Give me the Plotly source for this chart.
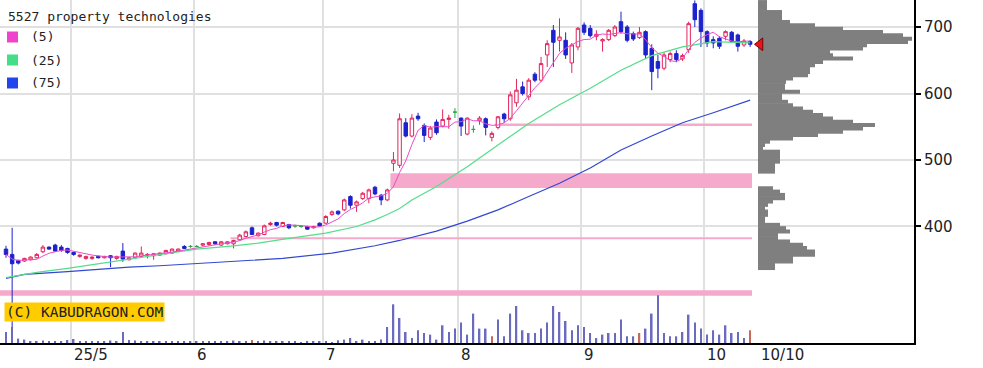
import pandas as pd
import plotly.graph_objects as go

TITLE = "5527 property technologies"
HOLIDAYS = ["2025-04-29", "2025-05-05", "2025-05-06", "2025-07-21",
            "2025-08-11", "2025-09-15", "2025-09-23"]
dates = [d for d in pd.bdate_range("2025-04-15", "2025-10-10")
         if d.strftime("%Y-%m-%d") not in HOLIDAYS]

open_ = [366, 358, 349, 348, 350, 353, 362, 369, 372, 369, 367, 361, 355, 352, 352, 355, 353, 356, 352, 363,
         350, 353, 355, 357, 356, 357, 359, 360, 363, 370, 370, 370, 372, 373, 377, 372, 374, 374, 380, 385,
         398, 386, 388, 403, 406, 400, 403, 401, 400, 400, 398, 405, 405, 418, 423, 425, 445, 432, 442, 442,
         459, 447, 440, 495, 492, 556, 536, 566, 552, 534, 557, 551, 561, 572, 563, 539, 546, 559, 562, 534,
         549, 569, 562, 586, 610, 595, 629, 620, 658, 695, 680, 680, 646, 670, 703, 698, 686, 679, 681, 687,
         708, 700, 690, 684, 693, 668, 648, 638, 651, 660, 652, 666, 735, 725, 693, 681, 683, 686, 692, 688,
         673, 678]
high = [371, 398, 350, 353, 355, 360, 372, 370, 374, 372, 368, 362, 358, 356, 355, 356, 356, 357, 356, 375,
        354, 361, 370, 360, 360, 361, 365, 367, 367, 372, 372, 372, 375, 377, 378, 378, 378, 380, 389, 394,
        400, 391, 403, 407, 407, 407, 404, 403, 402, 401, 401, 406, 417, 424, 424, 442, 447, 439, 452, 457,
        461, 449, 457, 512, 570, 563, 569, 571, 555, 551, 561, 576, 568, 578, 564, 564, 552, 566, 564, 543,
        566, 571, 603, 622, 618, 623, 632, 655, 680, 703, 713, 692, 676, 700, 707, 703, 695, 683, 697, 703,
        723, 703, 693, 700, 695, 674, 658, 662, 663, 665, 660, 708, 740, 728, 695, 686, 686, 695, 694, 690,
        682, 680]
low = [353, 240, 343, 347, 349, 352, 360, 365, 362, 362, 359, 356, 353, 350, 350, 352, 352, 339, 350, 347,
       349, 351, 353, 352, 350, 356, 358, 359, 362, 366, 368, 369, 370, 371, 372, 371, 373, 367, 379, 384,
       387, 385, 387, 401, 400, 399, 396, 398, 398, 395, 397, 400, 404, 416, 417, 423, 427, 422, 440, 435,
       447, 432, 438, 483, 488, 534, 534, 559, 527, 530, 538, 549, 547, 563, 536, 537, 541, 553, 537, 528,
       546, 556, 559, 580, 597, 590, 617, 617, 640, 640, 663, 652, 631, 665, 688, 684, 680, 663, 679, 685,
       690, 677, 679, 682, 653, 605, 623, 635, 647, 647, 649, 661, 700, 670, 670, 668, 667, 680, 676, 663,
       670, 670]
close = [358, 344, 345, 352, 354, 358, 369, 366, 363, 364, 361, 358, 357, 355, 354, 353, 355, 353, 355, 351,
         353, 360, 360, 358, 359, 360, 364, 366, 366, 367, 370, 370, 374, 376, 374, 377, 377, 379, 387, 392,
         388, 390, 401, 405, 402, 406, 398, 401, 400, 396, 400, 401, 415, 422, 419, 440, 432, 437, 450, 455,
         449, 440, 455, 500, 562, 536, 563, 562, 537, 548, 541, 561, 563, 572, 551, 563, 546, 563, 549, 540,
         565, 562, 598, 605, 600, 620, 620, 645, 675, 677, 685, 658, 673, 698, 692, 687, 689, 681, 695, 700,
         693, 680, 682, 692, 658, 633, 638, 658, 660, 651, 657, 705, 711, 693, 676, 676, 671, 693, 678, 671,
         679, 674]
volume = [110, 160, 44, 34, 20, 15, 25, 15, 20, 15, 30, 40, 15, 20, 15, 12, 20, 25, 15, 110,
          30, 25, 20, 15, 12, 15, 20, 15, 12, 20, 15, 12, 15, 20, 12, 15, 20, 25, 15, 20,
          30, 12, 25, 15, 20, 15, 12, 15, 10, 12, 15, 12, 20, 10, 27, 34, 50, 20, 34, 20,
          20, 34, 160, 387, 250, 110, 50, 127, 100, 84, 34, 177, 110, 144, 204, 84, 294, 144, 144, 67,
          234, 67, 294, 370, 127, 100, 100, 144, 204, 370, 310, 220, 127, 177, 160, 100, 50, 84, 100, 100,
          234, 67, 67, 100, 144, 294, 477, 100, 67, 67, 110, 284, 204, 144, 84, 127, 84, 177, 100, 110,
          50, 127]
vol_red_days = [40, 79, 103, 121]

# moving averages (day index -> value)
ma25_idx = [0, 5, 10, 15, 20, 25, 31, 37, 41, 46, 52, 57, 60, 62, 64, 66, 70, 75, 80, 85, 90, 95, 100, 105, 110, 115, 121]
ma25_val = [323, 331, 337, 344, 351, 357, 366, 371, 375, 382, 390, 400, 410, 418, 427, 440, 460, 490, 523, 555, 583, 608, 635, 657, 670, 678, 676]
ma75_idx = [0, 3, 10, 15, 20, 25, 32, 40, 45, 53, 60, 64, 70, 75, 80, 85, 90, 95, 100, 105, 110, 115, 121]
ma75_val = [322, 328, 332, 336, 339, 341, 345, 349, 352, 360, 371, 379, 393, 408, 425, 445, 465, 488, 515, 536, 556, 571, 590]

# price-volume profile (bin centre price, bar length)
prof_price = [737.5, 732.5, 727.5, 722.5, 717.5, 712.5, 707.5, 702.5, 697.5, 692.5, 687.5, 682.5, 677.5, 672.5,
              667.5, 662.5, 657.5, 652.5, 647.5, 642.5, 637.5, 632.5, 627.5, 622.5, 617.5, 612.5, 607.5, 602.5,
              597.5, 592.5, 587.5, 582.5, 577.5, 572.5, 567.5, 562.5, 557.5, 552.5, 547.5, 542.5, 537.5, 532.5,
              527.5, 522.5, 517.5, 512.5, 507.5, 502.5, 497.5, 492.5, 487.5, 482.5, 477.5, 472.5, 467.5, 462.5,
              457.5, 452.5, 447.5, 442.5, 437.5, 432.5, 427.5, 422.5, 417.5, 412.5, 407.5, 402.5, 397.5, 392.5,
              387.5, 382.5, 377.5, 372.5, 367.5, 362.5, 357.5, 352.5, 347.5, 342.5, 337.5]
prof_size = [9, 9, 9, 24, 24, 24, 32, 57, 85, 125, 145, 154, 150, 109,
             105, 72, 75, 95, 65, 57, 52, 52, 50, 35, 28, 27, 27, 42,
             24, 24, 30, 35, 45, 55, 65, 75, 95, 117, 105, 85, 60, 35,
             12, 7, 5, 22, 22, 22, 22, 17, 17, 17, 0, 0, 0, 0,
             15, 22, 27, 27, 15, 10, 7, 10, 10, 7, 7, 22, 28, 32,
             20, 20, 32, 45, 49, 57, 57, 35, 35, 17, 17]

# horizontal price zones
band_low = [296, 458, 381, 551]
band_high = [304, 480, 384, 555]
band_start = [0, 63, 37, 80]

RED = "#e2245c"
BLUE = "#1c22cc"
GREEN = "#22aa44"
PINK_MA = "#ec4cc8"
GREEN_MA = "#55dd8a"
BLUE_MA = "#3348d0"
BAND = "#f5aacb"
GRID = "#e0e0e0"
PROFILE = "#7f7f7f"

W, H = 983, 368
PW, PH = 914, 343  # plot area in px


def px(x):
    return x / PW


def py(y):
    return 1 - y / PH


n = len(dates)
idx = list(range(n))
X_LO = -6 / 6.15
X_HI = (757 - 6) / 6.15

fig = go.Figure()

# volume
vol_colors = ["#c46a5a" if i in vol_red_days else "#6a6abf" for i in idx]
fig.add_trace(go.Bar(x=idx, y=volume, width=0.26, marker=dict(color=vol_colors, line=dict(width=0)),
                     xaxis="x", yaxis="y3", showlegend=False, hoverinfo="skip"))

# moving averages
ma5 = pd.Series(close).rolling(5, min_periods=1).mean().tolist()
fig.add_trace(go.Scatter(x=ma75_idx, y=ma75_val, mode="lines", line=dict(color=BLUE_MA, width=1.2),
                         showlegend=False, hoverinfo="skip"))
fig.add_trace(go.Scatter(x=ma25_idx, y=ma25_val, mode="lines", line=dict(color=GREEN_MA, width=1.2),
                         showlegend=False, hoverinfo="skip"))
fig.add_trace(go.Scatter(x=idx, y=ma5, mode="lines", line=dict(color=PINK_MA, width=1),
                         showlegend=False, hoverinfo="skip"))


def pick(mask):
    xs = [i for i in idx if mask(i)]
    return dict(x=xs, open=[open_[i] for i in xs], high=[high[i] for i in xs],
                low=[low[i] for i in xs], close=[close[i] for i in xs])


for mask, col, fill in [
    (lambda i: close[i] > open_[i], RED, "white"),
    (lambda i: close[i] < open_[i], BLUE, BLUE),
    (lambda i: close[i] == open_[i], GREEN, GREEN),
]:
    d = pick(mask)
    fig.add_trace(go.Candlestick(
        **d, xaxis="x", yaxis="y", showlegend=False, whiskerwidth=0,
        increasing=dict(line=dict(color=col, width=1), fillcolor=fill),
        decreasing=dict(line=dict(color=col, width=1), fillcolor=fill),
    ))

# volume profile (bars slightly overlapping so no seams show)
fig.add_trace(go.Bar(y=prof_price, x=prof_size, orientation="h", width=6,
                     marker=dict(color=PROFILE, line=dict(width=0)),
                     xaxis="x2", yaxis="y", showlegend=False, hoverinfo="skip"))

# current price marker
fig.add_trace(go.Scatter(x=[2], y=[close[-1]], mode="markers", xaxis="x2", yaxis="y",
                         marker=dict(symbol="triangle-left", size=11, color="#e8161b",
                                     line=dict(color="#7a0000", width=1)),
                         cliponaxis=False, showlegend=False, hoverinfo="skip"))

shapes = []
for lo, hi, st in zip(band_low, band_high, band_start):
    shapes.append(dict(type="rect", xref="x", yref="y", x0=(st - 0.5) if st > 0 else X_LO,
                       x1=n - 1 + 0.3, y0=lo, y1=hi, fillcolor=BAND, line=dict(width=0),
                       layer="between"))

# legend squares
legend_items = [("(5)", "#ee44cc", 37), ("(25)", "#44dd88", 60), ("(75)", "#2244ee", 83)]
annotations = []
for label, col, yc in legend_items:
    shapes.append(dict(type="rect", xref="paper", yref="paper", x0=px(7), x1=px(18),
                       y0=py(yc + 5.5), y1=py(yc - 5.5), fillcolor=col, line=dict(width=0),
                       layer="above"))
    annotations.append(dict(text=label, xref="paper", yref="paper", x=px(29), y=py(yc),
                            xanchor="left", yanchor="middle", showarrow=False,
                            font=dict(family="DejaVu Sans Mono", size=13, color="#222")))

annotations.append(dict(text=TITLE, xref="paper", yref="paper", x=px(6), y=py(16),
                        xanchor="left", yanchor="middle", showarrow=False,
                        font=dict(family="DejaVu Sans Mono", size=13, color="#222")))
annotations.append(dict(text="(C) KABUDRAGON.COM", xref="paper", yref="paper", x=px(4), y=py(312),
                        xanchor="left", yanchor="middle", showarrow=False, bgcolor="#ffcc00",
                        borderpad=1,
                        font=dict(family="DejaVu Sans Mono", size=14.5, color="#222")))

# month starts
month_first = []
for i, d in enumerate(dates):
    if i > 0 and d.month != dates[i - 1].month:
        month_first.append(i)
month_text = []
for k, i in enumerate(month_first):
    d = dates[i]
    month_text.append(f"{d.year % 100}/{d.month}" if k == 0 else f"{d.month}")
for i, t in zip(month_first, month_text):
    annotations.append(dict(text=t, xref="x", yref="paper", x=i - 0.5, y=0, xanchor="left",
                            yanchor="top", xshift=1, yshift=-1, showarrow=False,
                            font=dict(family="DejaVu Sans", size=15, color="#222")))
annotations.append(dict(text=f"{dates[-1].month}/{dates[-1].day}", xref="x", yref="paper",
                        x=n - 1, y=0, xanchor="left", yanchor="top", xshift=9, yshift=-1,
                        showarrow=False, font=dict(family="DejaVu Sans", size=15, color="#222")))

fig.update_layout(
    width=W, height=H, margin=dict(l=0, r=W - PW, t=0, b=H - PH, autoexpand=False),
    paper_bgcolor="white", plot_bgcolor="white", barmode="overlay", showlegend=False,
    boxgap=0.2,
    shapes=shapes, annotations=annotations,
    xaxis=dict(domain=[0, px(757)], range=[X_LO, X_HI], anchor="y",
               tickvals=[i - 0.5 for i in month_first], showticklabels=False, ticks="",
               showgrid=True, gridcolor=GRID, gridwidth=2, zeroline=False,
               showline=True, linecolor="black", linewidth=2, rangeslider=dict(visible=False),
               fixedrange=True),
    xaxis2=dict(domain=[px(757), 1], range=[-1, 156], anchor="y", showticklabels=False,
                ticks="", showgrid=False, zeroline=False, showline=True, linecolor="black",
                linewidth=2, fixedrange=True),
    yaxis=dict(range=[224.8, 740.6], side="right", anchor="x2", tickvals=[400, 500, 600, 700],
               ticks="outside", ticklen=5, tickwidth=1.5, tickcolor="black",
               showline=True, linecolor="black", linewidth=2, showgrid=True, gridcolor=GRID,
               gridwidth=2, zeroline=False,
               tickfont=dict(family="DejaVu Sans", size=15, color="#222"), fixedrange=True),
    yaxis3=dict(overlaying="y", anchor="x", range=[0, 3430], visible=False, fixedrange=True),
)

fig.write_html("out.html", config={"displayModeBar": False},
               post_script="document.body.style.margin='0';document.body.style.overflow='hidden';")
